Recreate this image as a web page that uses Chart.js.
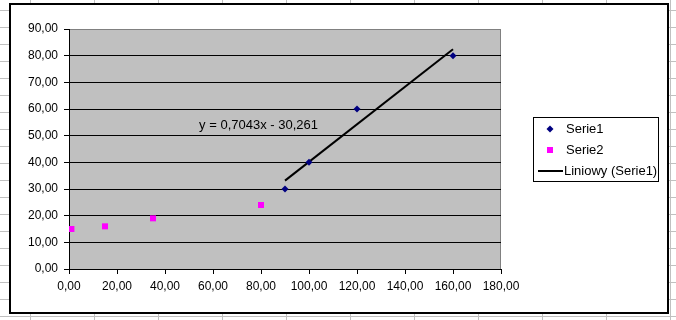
<!DOCTYPE html>
<html>
<head>
<meta charset="utf-8">
<script src="https://cdn.jsdelivr.net/npm/chart.js@4.4.1/dist/chart.umd.min.js"></script>
<style>
  html, body { margin: 0; padding: 0; background: #ffffff; }
  canvas { display: block; }
</style>
</head>
<body>
<canvas id="c" width="676" height="320"></canvas>
<script>
// ---- data ----
const serie1X = [90, 100, 120, 160];
const serie1Y = [30, 40, 60, 80];
const serie2X = [1, 15, 35, 80];
const serie2Y = [15, 16, 19, 24];
const xTickLabels = ['0,00','20,00','40,00','60,00','80,00','100,00','120,00','140,00','160,00','180,00'];
const yTickLabels = ['0,00','10,00','20,00','30,00','40,00','50,00','60,00','70,00','80,00','90,00'];
const legendLabels = ['Serie1', 'Serie2', 'Liniowy (Serie1)'];

// linear regression of Serie1
const n = serie1X.length;
const mx = serie1X.reduce((a, b) => a + b, 0) / n;
const my = serie1Y.reduce((a, b) => a + b, 0) / n;
let sxy = 0, sxx = 0;
for (let i = 0; i < n; i++) { sxy += (serie1X[i] - mx) * (serie1Y[i] - my); sxx += (serie1X[i] - mx) ** 2; }
const slope = sxy / sxx;
const intercept = my - slope * mx;
const xMin1 = Math.min(...serie1X), xMax1 = Math.max(...serie1X);
const trendData = [xMin1, xMax1].map(x => ({ x: x, y: slope * x + intercept }));
const eqText = 'y = ' + slope.toFixed(4).replace('.', ',') + 'x ' + (intercept < 0 ? '- ' : '+ ') + Math.abs(intercept).toFixed(3).replace('.', ',');

const FONT = '"Liberation Sans", Arial, sans-serif';

const decor = {
  id: 'decor',
  beforeDraw(chart) {
    const ctx = chart.ctx;
    const W = chart.width, H = chart.height;
    ctx.save();
    ctx.fillStyle = '#ffffff';
    ctx.fillRect(0, 0, W, H);
    // spreadsheet cell grid behind the chart
    ctx.strokeStyle = '#c0c0c0';
    ctx.lineWidth = 1;
    ctx.beginPath();
    for (let x = 30; x < W; x += 64) { ctx.moveTo(x + 0.5, 0); ctx.lineTo(x + 0.5, H); }
    for (let y = 10; y < H; y += 17) { ctx.moveTo(0, y + 0.5); ctx.lineTo(W, y + 0.5); }
    ctx.stroke();
    // chart frame
    ctx.fillStyle = '#ffffff';
    ctx.fillRect(9, 3, 660, 311);
    ctx.strokeStyle = '#000000';
    ctx.lineWidth = 2;
    ctx.strokeRect(10, 4, 658, 309);
    // plot area
    const a = chart.chartArea;
    ctx.fillStyle = '#c0c0c0';
    ctx.fillRect(a.left, a.top, a.right - a.left, a.bottom - a.top);
    ctx.strokeStyle = '#808080';
    ctx.lineWidth = 1;
    ctx.strokeRect(a.left + 0.5, a.top + 0.5, a.right - a.left - 1, a.bottom - a.top);
    ctx.restore();
  },
  afterDraw(chart) {
    const ctx = chart.ctx;
    const xs = chart.scales.x, ys = chart.scales.y;
    ctx.save();
    // equation label
    ctx.font = '13px ' + FONT;
    ctx.fillStyle = '#000000';
    ctx.textAlign = 'left';
    ctx.textBaseline = 'alphabetic';
    ctx.fillText(eqText, xs.getPixelForValue(54.2), ys.getPixelForValue(52.5));
    // legend
    const lx = 533, ly = 117, lw = 125, lh = 64;
    ctx.fillStyle = '#ffffff';
    ctx.fillRect(lx, ly, lw, lh);
    ctx.strokeStyle = '#000000';
    ctx.lineWidth = 1;
    ctx.strokeRect(lx + 0.5, ly + 0.5, lw, lh);
    const ds = chart.data.datasets;
    const rows = [129, 150, 171];
    // Serie1 diamond
    ctx.fillStyle = ds[0].backgroundColor;
    ctx.beginPath();
    ctx.moveTo(550, rows[0] - 3.5); ctx.lineTo(553.5, rows[0]); ctx.lineTo(550, rows[0] + 3.5); ctx.lineTo(546.5, rows[0]);
    ctx.closePath(); ctx.fill();
    // Serie2 square
    ctx.fillStyle = ds[1].backgroundColor;
    ctx.fillRect(547, rows[1] - 3, 6, 6);
    // trend line
    ctx.strokeStyle = ds[2].borderColor;
    ctx.lineWidth = 2;
    ctx.beginPath(); ctx.moveTo(538, rows[2]); ctx.lineTo(563, rows[2]); ctx.stroke();
    ctx.fillStyle = '#000000';
    ctx.font = '13px ' + FONT;
    ctx.textBaseline = 'middle';
    ctx.fillText(legendLabels[0], 566, rows[0]);
    ctx.fillText(legendLabels[1], 566, rows[1]);
    ctx.fillText(legendLabels[2], 564, rows[2]);
    ctx.restore();
  }
};

new Chart(document.getElementById('c'), {
  type: 'scatter',
  data: {
    datasets: [
      {
        label: legendLabels[0],
        data: serie1X.map((x, i) => ({ x: x, y: serie1Y[i] })),
        pointStyle: 'rectRot',
        pointRadius: 3.5,
        pointHoverRadius: 3.5,
        borderWidth: 0,
        backgroundColor: '#000080',
        borderColor: '#000080',
        order: 1
      },
      {
        label: legendLabels[1],
        data: serie2X.map((x, i) => ({ x: x, y: serie2Y[i] })),
        pointStyle: 'rect',
        pointRadius: 4.25,
        pointHoverRadius: 4.25,
        borderWidth: 0,
        backgroundColor: '#ff00ff',
        borderColor: '#ff00ff',
        order: 2
      },
      {
        label: legendLabels[2],
        data: trendData,
        showLine: true,
        pointRadius: 0,
        borderColor: '#000000',
        borderWidth: 2,
        backgroundColor: '#000000',
        order: 3
      }
    ]
  },
  options: {
    responsive: false,
    animation: false,
    events: [],
    layout: { padding: { top: 29, right: 175, left: 0, bottom: 0 } },
    plugins: { legend: { display: false }, tooltip: { enabled: false } },
    scales: {
      x: {
        type: 'linear',
        min: 0, max: 180,
        ticks: {
          stepSize: 20,
          padding: 5,
          color: '#000000',
          font: { family: FONT, size: 12 },
          maxRotation: 0,
          callback: (v, i) => xTickLabels[i]
        },
        grid: { drawOnChartArea: false, drawTicks: true, tickLength: 5, tickColor: '#000000', color: '#000000' },
        border: { display: true, color: '#000000', width: 1 },
        afterFit(s) { s.height = 51; }
      },
      y: {
        type: 'linear',
        min: 0, max: 90,
        ticks: {
          stepSize: 10,
          padding: 6,
          color: '#000000',
          font: { family: FONT, size: 12 },
          callback: (v, i) => yTickLabels[i]
        },
        grid: {
          drawOnChartArea: true, drawTicks: true, tickLength: 5, tickColor: '#000000',
          color: (c) => (c.tick && (c.tick.value === 90 || c.tick.value === 0)) ? 'rgba(0,0,0,0)' : '#000000',
          lineWidth: 1
        },
        border: { display: true, color: '#000000', width: 1 },
        afterFit(s) { s.width = 69; }
      }
    }
  },
  plugins: [decor]
});
</script>
</body>
</html>
